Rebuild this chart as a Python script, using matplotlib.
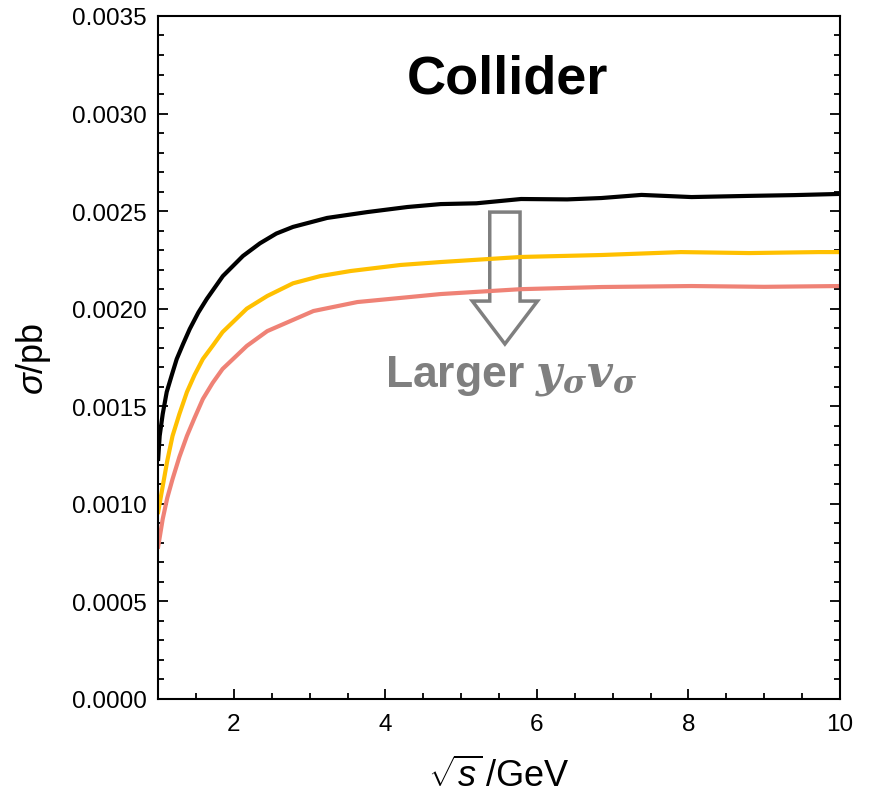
import numpy as np
import matplotlib
matplotlib.use("Agg")
import matplotlib.pyplot as plt
from matplotlib.patches import Polygon
from matplotlib.ticker import MultipleLocator, FormatStrFormatter

# Data
x_black = [1.0, 1.02, 1.06, 1.113, 1.18, 1.245, 1.33, 1.417, 1.53, 1.642, 1.854, 2.119, 2.344, 2.56, 2.78, 3.23,
           3.76, 4.29, 4.73, 5.2, 5.79, 6.4, 6.85, 7.38, 8.04, 8.8, 9.4, 10.0]
y_black = [0.00123, 0.001348, 0.00146, 0.001573, 0.00166, 0.001742, 0.00182, 0.001896, 0.00198, 0.00205,
           0.002167, 0.00227, 0.002335, 0.002385, 0.002419, 0.002465, 0.002495, 0.002521, 0.002536, 0.002540,
           0.002562, 0.002560, 0.002567, 0.002583, 0.002572, 0.002578, 0.002582, 0.002588]

x_yellow = [1.0, 1.06, 1.12, 1.19, 1.28, 1.38, 1.48, 1.59, 1.72, 1.85, 2.17, 2.44, 2.78, 3.14, 3.54, 4.2,
            4.73, 5.79, 6.85, 7.9, 8.8, 9.72, 10.0]
y_yellow = [0.000958, 0.00109, 0.00122, 0.001348, 0.00146, 0.001573, 0.00166, 0.001742, 0.00181, 0.00188,
            0.002, 0.002065, 0.002130, 0.002167, 0.002193, 0.002224, 0.002239, 0.002265, 0.002275, 0.00229,
            0.002285, 0.00229, 0.00229]

x_red = [1.0, 1.06, 1.12, 1.19, 1.28, 1.38, 1.48, 1.59, 1.72, 1.85, 2.17, 2.44, 3.05, 3.63, 4.33, 4.73,
         5.79, 6.85, 8.04, 9.0, 10.0]
y_red = [0.00078, 0.000922, 0.00103, 0.001127, 0.00124, 0.001348, 0.00144, 0.001537, 0.00162, 0.001691,
         0.001809, 0.001885, 0.001988, 0.002034, 0.00206, 0.002075, 0.0021, 0.002111, 0.002116, 0.002112,
         0.002116]

plt.rcParams['font.family'] = ['Liberation Sans', 'DejaVu Sans']
plt.rcParams['mathtext.fontset'] = 'custom'
plt.rcParams['mathtext.rm'] = 'Liberation Sans'
plt.rcParams['mathtext.it'] = 'Liberation Sans:italic'
plt.rcParams['mathtext.bf'] = 'DejaVu Serif:bold:italic'

fig = plt.figure(figsize=(8.69, 8.04), dpi=100)
ax = fig.add_axes([0.182, 0.1294, 0.7846, 0.8495])

ax.plot(x_black, y_black, color='black', lw=3.0, solid_joinstyle='round')
ax.plot(x_yellow, y_yellow, color='#FFC000', lw=3.0, solid_joinstyle='round')
ax.plot(x_red, y_red, color='#EF8276', lw=3.0, solid_joinstyle='round')

ax.set_xlim(1, 10)
ax.set_ylim(0, 0.0035)
ax.xaxis.set_major_locator(MultipleLocator(2))
ax.xaxis.set_minor_locator(MultipleLocator(0.5))
ax.yaxis.set_major_locator(MultipleLocator(0.0005))
ax.yaxis.set_minor_locator(MultipleLocator(0.0001))
ax.yaxis.set_major_formatter(FormatStrFormatter('%.4f'))
ax.tick_params(which='both', direction='in', top=False, right=True, labelsize=17.5, width=1.3, colors='black')
ax.tick_params(which='major', length=7)
ax.tick_params(which='minor', length=4)
ax.tick_params(axis='x', pad=10)
ax.tick_params(axis='y', pad=8)
for s in ax.spines.values():
    s.set_linewidth(1.5)

ax.set_xlabel(r'$\sqrt{s}\,$/GeV', fontsize=26, labelpad=16)
ax.set_ylabel(r'$\sigma$/pb', fontsize=26, labelpad=14)

# Arrow (hollow)
cx, hw, sw = 5.577, 0.43, 0.20
ytop, yneck, ytip = 0.002495, 0.002039, 0.001819
arrow = Polygon([(cx - sw, ytop), (cx + sw, ytop), (cx + sw, yneck), (cx + hw, yneck),
                 (cx, ytip), (cx - hw, yneck), (cx - sw, yneck)], closed=True,
                facecolor='none', edgecolor='#7F7F7F', lw=2.5, joinstyle='miter')
ax.add_patch(arrow)

ax.text(0.513, 0.908, 'Collider', transform=ax.transAxes, ha='center', va='center',
        fontsize=39, fontweight='bold')
ax.text(0.518, 0.474, r'Larger $\mathbf{y_{\sigma}v_{\sigma}}$', transform=ax.transAxes,
        ha='center', va='center', fontsize=32, fontweight='bold', color='#7F7F7F')

fig.savefig('out.png', dpi=100)
